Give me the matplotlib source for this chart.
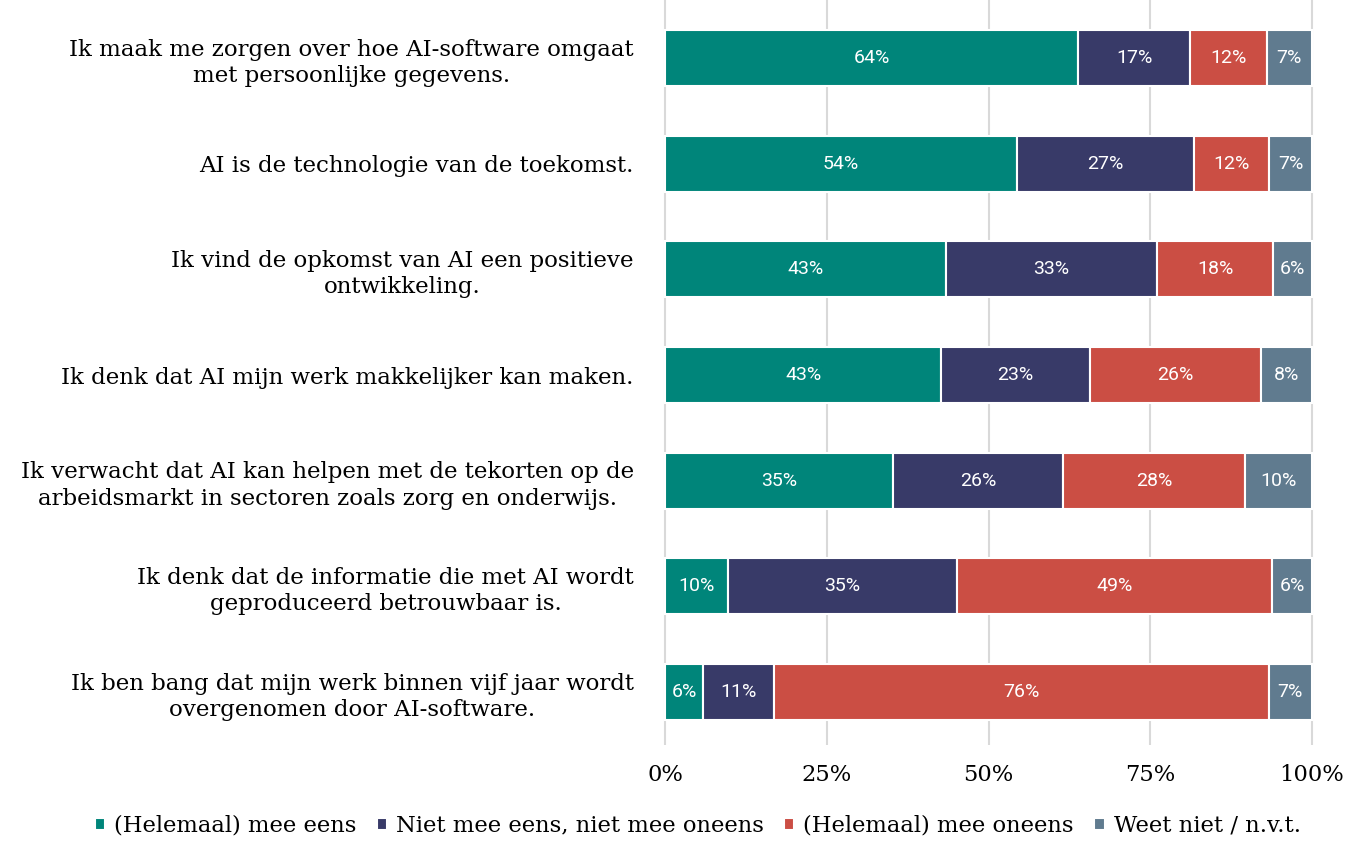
import matplotlib
matplotlib.use("Agg")
import matplotlib.pyplot as plt
import numpy as np

# Statements (top to bottom)
statements = [
    "Ik maak me zorgen over hoe AI-software omgaat\nmet persoonlijke gegevens.",
    "AI is de technologie van de toekomst.",
    "Ik vind de opkomst van AI een positieve\nontwikkeling.",
    "Ik denk dat AI mijn werk makkelijker kan maken.",
    "Ik verwacht dat AI kan helpen met de tekorten op de\narbeidsmarkt in sectoren zoals zorg en onderwijs.",
    "Ik denk dat de informatie die met AI wordt\ngeproduceerd betrouwbaar is.",
    "Ik ben bang dat mijn werk binnen vijf jaar wordt\novergenomen door AI-software.",
]

# Shares per answer category (%)
eens = [63.9, 54.4, 43.4, 42.7, 35.2, 9.7, 5.9]
neutraal = [17.3, 27.3, 32.7, 23.0, 26.3, 35.4, 11.0]
oneens = [11.8, 11.7, 17.9, 26.4, 28.2, 48.7, 76.4]
weet_niet = [7.0, 6.6, 6.0, 7.9, 10.3, 6.2, 6.7]

series_names = ["(Helemaal) mee eens", "Niet mee eens, niet mee oneens",
                "(Helemaal) mee oneens", "Weet niet / n.v.t."]
colors = ["#00857a", "#383a68", "#cb4e44", "#607b8f"]
xticks = [0, 25, 50, 75, 100]

serif = "DejaVu Serif"

fig = plt.figure(figsize=(13.68, 8.42), dpi=100)
ax = fig.add_axes([663 / 1368, 97 / 842, 651 / 1368, 745 / 842])

y = np.arange(len(statements))
left = np.zeros(len(statements))
for name, vals, col in zip(series_names, [eens, neutraal, oneens, weet_niet], colors):
    vals = np.array(vals)
    bars = ax.barh(y, vals, left=left, height=0.53, color=col, edgecolor="white",
                   linewidth=1.5, label=name, zorder=2)
    for b, v in zip(bars, vals):
        ax.text(b.get_x() + b.get_width() / 2, b.get_y() + b.get_height() / 2,
                f"{round(v)}%", ha="center", va="center", color="white",
                fontsize=14, family="Roboto", zorder=3)
    left += vals

ax.set_ylim(len(statements) - 0.5, -0.55)
ax.set_xlim(-0.3, 100.3)
ax.set_yticks(y)
ax.set_yticklabels(statements, family=serif, fontsize=16.5, multialignment="center",
                   linespacing=1.25)
ax.set_xticks(xticks)
ax.set_xticklabels([f"{t}%" for t in xticks], family=serif, fontsize=16.3)
ax.tick_params(axis="y", length=0, pad=21)
ax.tick_params(axis="x", length=0, pad=14)
ax.grid(axis="x", color="#d9d9d9", linewidth=1.5, zorder=0)
for s in ax.spines.values():
    s.set_visible(False)

fig.legend(loc="lower center", bbox_to_anchor=(0.51, -0.018), ncol=4, frameon=False,
           prop={"family": serif, "size": 16.3}, handlelength=0.45, handleheight=0.45,
           handletextpad=0.4, columnspacing=0.9)

fig.savefig("out.png", dpi=100)
